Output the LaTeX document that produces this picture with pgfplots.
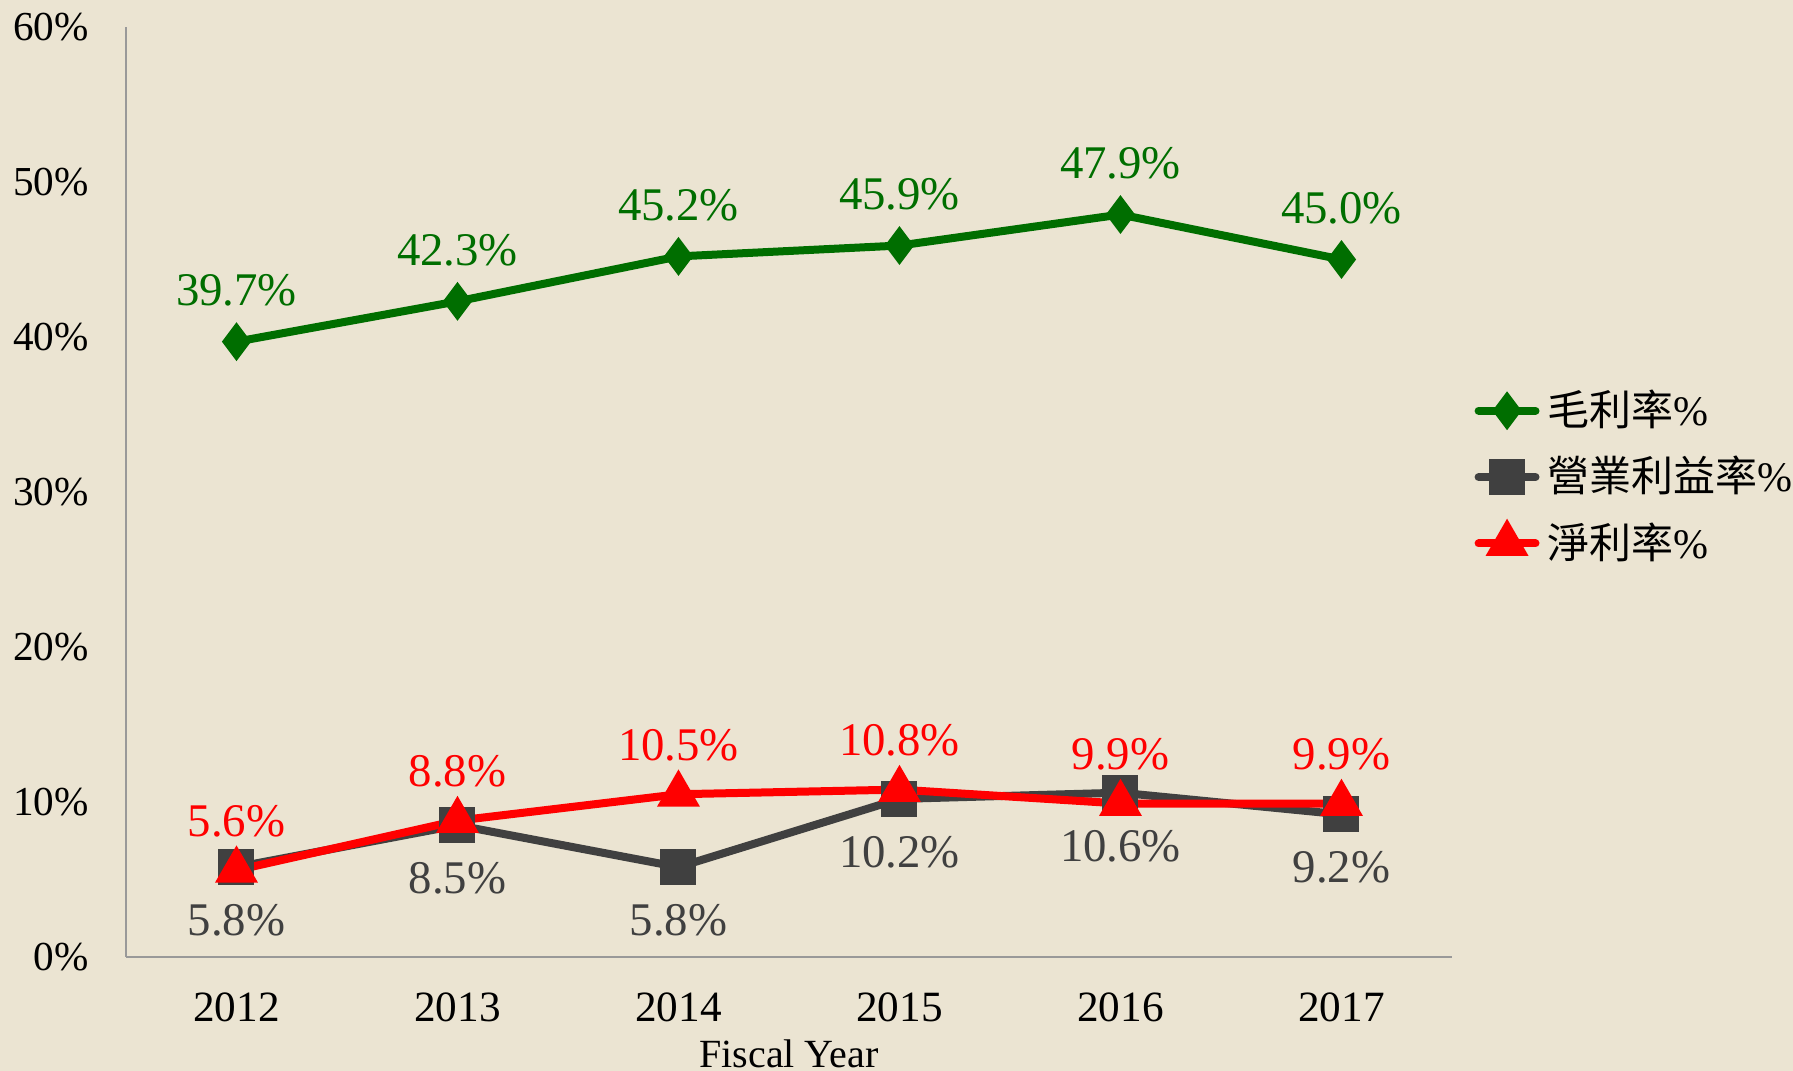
\documentclass[border=0pt]{standalone}
\usepackage{pgfplots}
\pgfplotsset{compat=1.18}
\usepackage{fontspec}
\setmainfont{Liberation Serif}
\newfontfamily\cjk{Noto Sans CJK TC}
\definecolor{bg}{RGB}{235,228,210}
\definecolor{gm}{RGB}{0,110,0}
\definecolor{om}{RGB}{64,64,64}
\definecolor{nm}{RGB}{255,0,0}
\begin{document}
\begin{tikzpicture}
\fill[bg] (-31.5pt,-28.5pt) rectangle (416.75pt,239.25pt);
\begin{axis}[
  at={(0,0)}, anchor=south west,
  scale only axis, width=331.5pt, height=232.5pt,
  xmin=-0.5, xmax=5.5, ymin=0, ymax=60,
  xtick={0,1,2,3,4,5}, xticklabels={2012,2013,2014,2015,2016,2017},
  ytick={0,10,20,30,40,50,60},
  yticklabel={\pgfmathprintnumber{\tick}\%},
  /pgf/number format/assume math mode=true,
  axis x line*=bottom, axis y line*=left,
  axis line style={draw=gray!80, line width=0.5pt, -},
  major tick length=0pt,
  tick label style={font=\fontsize{10.8}{13}\selectfont},
  xticklabel style={yshift=-4.5pt},
  yticklabel style={xshift=-5pt, font=\fontsize{10.3}{13}\selectfont},
  xlabel={Fiscal Year},
  xlabel style={font=\fontsize{10}{12}\selectfont, yshift=3pt},
  clip=false,
  line width=2pt,
  nodes near coords={\pgfmathprintnumber[fixed,fixed zerofill,precision=1]{\pgfplotspointmeta}\%},
  every node near coord/.append style={font=\fontsize{11.7}{14}\selectfont},
  legend style={at={(1.005,0.516)}, anchor=west, draw=none, fill=none,
    font=\fontsize{10.5}{12}\selectfont, row sep=2.2pt, cells={anchor=west}},
  legend image code/.code={\draw[mark repeat=2,mark phase=2,line cap=round] plot coordinates {(0cm,0cm)(0.25cm,0cm)(0.5cm,0cm)};},
]
\addplot[color=gm, mark=diamond*, mark size=3.2pt, mark options={solid},
  every node near coord/.append style={color=gm, yshift=4.5pt}]
  coordinates {(0,39.7)(1,42.3)(2,45.2)(3,45.9)(4,47.9)(5,45.0)};
\addlegendentry{\cjk 毛利率{\rmfamily\%}}
\addplot[color=om, mark=square*, mark size=3.5pt, mark options={solid},
  every node near coord/.append style={color=om, anchor=north, yshift=-5pt}]
  coordinates {(0,5.8)(1,8.5)(2,5.8)(3,10.2)(4,10.6)(5,9.2)};
\addlegendentry{\cjk 營業利益率{\rmfamily\%}}
\addplot[color=nm, mark=triangle*, mark size=4.2pt, mark options={solid},
  every node near coord/.append style={color=nm, yshift=4pt}]
  coordinates {(0,5.6)(1,8.8)(2,10.5)(3,10.8)(4,9.9)(5,9.9)};
\addlegendentry{\cjk 淨利率{\rmfamily\%}}
\end{axis}
\pgfresetboundingbox
\useasboundingbox (-31.5pt,-28.5pt) rectangle (416.75pt,239.25pt);
\end{tikzpicture}
\end{document}
